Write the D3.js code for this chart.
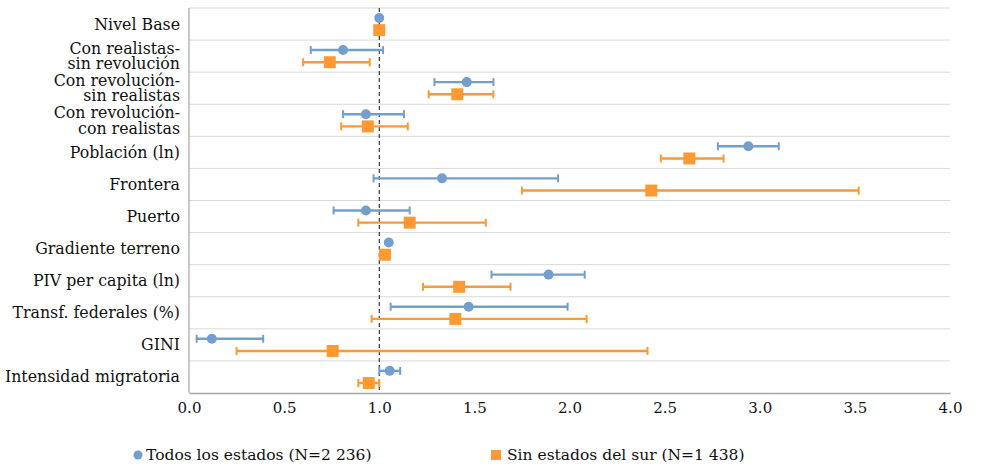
<!DOCTYPE html>
<html>
<head>
<meta charset="utf-8">
<script src="https://cdn.jsdelivr.net/npm/d3@7"></script>
<style>
  body { margin: 0; background: #fff; }
</style>
</head>
<body>
<div id="chart"></div>
<script>
// categories (label lines)
const categories = [
  ['Nivel Base'],
  ['Con realistas-', 'sin revolución'],
  ['Con revolución-', 'sin realistas'],
  ['Con revolución-', 'con realistas'],
  ['Población (ln)'],
  ['Frontera'],
  ['Puerto'],
  ['Gradiente terreno'],
  ['PIV per capita (ln)'],
  ['Transf. federales (%)'],
  ['GINI'],
  ['Intensidad migratoria']
];

// Todos los estados: point, lower, upper
const todosEst = [1.00, 0.81, 1.46, 0.93, 2.94, 1.33, 0.93, 1.05, 1.89, 1.47, 0.12, 1.055];
const todosLow = [1.00, 0.64, 1.29, 0.81, 2.78, 0.97, 0.76, 1.04, 1.59, 1.06, 0.04, 1.00];
const todosUp  = [1.00, 1.02, 1.60, 1.13, 3.10, 1.94, 1.16, 1.07, 2.08, 1.99, 0.39, 1.11];

// Sin estados del sur: point, lower, upper
const surEst = [1.00, 0.74, 1.41, 0.94, 2.63, 2.43, 1.16, 1.03, 1.42, 1.40, 0.755, 0.945];
const surLow = [1.00, 0.60, 1.26, 0.80, 2.48, 1.75, 0.89, 1.02, 1.23, 0.96, 0.25, 0.89];
const surUp  = [1.00, 0.95, 1.60, 1.15, 2.81, 3.52, 1.56, 1.04, 1.69, 2.09, 2.41, 1.00];

const xTicks = [0, 0.5, 1, 1.5, 2, 2.5, 3, 3.5, 4];

const seriesNames = ['Todos los estados (N=2 236)', 'Sin estados del sur (N=1 438)'];
const blue = '#729fcf';
const orange = '#ff9933';
const serif = "'DejaVu Serif', 'Liberation Serif', 'Noto Serif', serif";

const width = 983, height = 464;
const margin = {top: 8, right: 33, bottom: 71, left: 189};

const svg = d3.select('#chart').append('svg')
  .attr('width', width)
  .attr('height', height)
  .attr('font-family', serif);

const x = d3.scaleLinear()
  .domain([0, 4])
  .range([margin.left, width - margin.right]);

const y = d3.scaleBand()
  .domain(d3.range(categories.length))
  .range([margin.top, height - margin.bottom]);

// gridlines at band boundaries
svg.append('g')
  .selectAll('line')
  .data(d3.range(categories.length))
  .join('line')
  .attr('x1', margin.left)
  .attr('x2', width - margin.right)
  .attr('y1', d => y(d))
  .attr('y2', d => y(d))
  .attr('stroke', '#d9d9d9')
  .attr('stroke-width', 1);

// left axis line
svg.append('line')
  .attr('x1', margin.left).attr('x2', margin.left)
  .attr('y1', margin.top).attr('y2', height - margin.bottom)
  .attr('stroke', '#a6a6a6').attr('stroke-width', 1.2);

const xAxis = svg.append('g')
  .attr('transform', `translate(0,${height - margin.bottom})`)
  .call(d3.axisBottom(x).tickValues(xTicks).tickFormat(d3.format('.1f')).tickSize(0).tickPadding(9));
xAxis.attr('font-family', null);
xAxis.select('.domain').attr('stroke', '#a6a6a6').attr('stroke-width', 1.5);
xAxis.selectAll('text')
  .style('font-family', serif)
  .style('font-size', '15px')
  .attr('fill', '#111');

// reference line at 1
svg.append('line')
  .attr('x1', x(1)).attr('x2', x(1))
  .attr('y1', margin.top).attr('y2', height - margin.bottom)
  .attr('stroke', '#111')
  .attr('stroke-width', 1)
  .attr('stroke-dasharray', '4,3');

// category labels
const labels = svg.append('g')
  .selectAll('text')
  .data(categories)
  .join('text')
  .attr('text-anchor', 'end')
  .attr('fill', '#111')
  .style('font-family', serif)
  .style('font-size', '15.8px')
  .attr('transform', (d, i) => `translate(${margin.left - 9},${y(i) + y.bandwidth() / 2})`);

labels.selectAll('tspan')
  .data(d => d.map((t, j) => ({t, j, n: d.length})))
  .join('tspan')
  .attr('x', 0)
  .attr('y', d => d.n === 1 ? 0 : (d.j === 0 ? -7.7 : 7.7))
  .attr('dy', '0.35em')
  .text(d => d.t);

function drawSeries(est, low, up, color, offset, shape) {
  const g = svg.append('g');
  const cy = i => y(i) + y.bandwidth() * offset;
  const idx = d3.range(est.length);

  g.selectAll('line.bar')
    .data(idx)
    .join('line')
    .attr('class', 'bar')
    .attr('x1', i => x(low[i])).attr('x2', i => x(up[i]))
    .attr('y1', cy).attr('y2', cy)
    .attr('stroke', color).attr('stroke-width', 2.4);

  ['low', 'up'].forEach(side => {
    const arr = side === 'low' ? low : up;
    g.selectAll('line.cap-' + side)
      .data(idx.filter(i => up[i] - low[i] > 0.05))
      .join('line')
      .attr('class', 'cap-' + side)
      .attr('x1', i => x(arr[i])).attr('x2', i => x(arr[i]))
      .attr('y1', i => cy(i) - 4).attr('y2', i => cy(i) + 4)
      .attr('stroke', color).attr('stroke-width', 2);
  });

  if (shape === 'circle') {
    g.selectAll('circle')
      .data(idx)
      .join('circle')
      .attr('cx', i => x(est[i]))
      .attr('cy', cy)
      .attr('r', 5)
      .attr('fill', color);
  } else {
    g.selectAll('rect')
      .data(idx)
      .join('rect')
      .attr('x', i => x(est[i]) - 6)
      .attr('y', i => cy(i) - 6)
      .attr('width', 12).attr('height', 12)
      .attr('fill', color);
  }
}

drawSeries(todosEst, todosLow, todosUp, blue, 0.31, 'circle');
drawSeries(surEst, surLow, surUp, orange, 0.69, 'rect');

// legend
const legend = svg.append('g').attr('transform', `translate(0,455)`);
legend.append('circle').attr('cx', 138).attr('cy', 0).attr('r', 4.5).attr('fill', blue);
legend.append('text').attr('x', 146).attr('y', 0).attr('dy', '0.35em')
  .attr('fill', '#111').style('font-family', serif)
  .style('font-size', '15.5px').text(seriesNames[0]);
legend.append('rect').attr('x', 491).attr('y', -5).attr('width', 10).attr('height', 10).attr('fill', orange);
legend.append('text').attr('x', 507).attr('y', 0).attr('dy', '0.35em')
  .attr('fill', '#111').style('font-family', serif)
  .style('font-size', '15.5px').text(seriesNames[1]);
</script>
</body>
</html>
